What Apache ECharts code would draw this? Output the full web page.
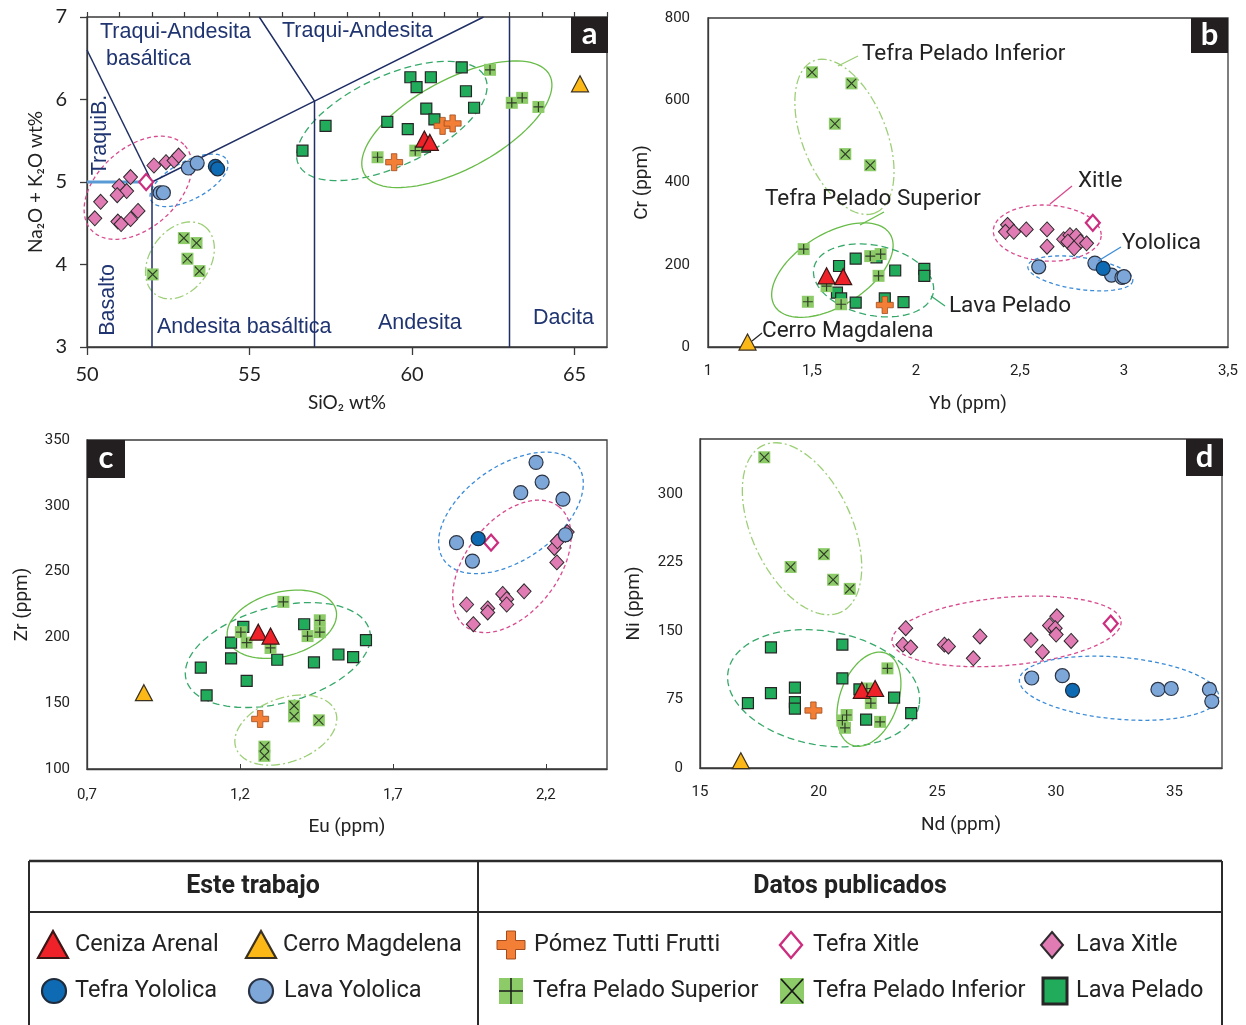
<!DOCTYPE html>
<html>
<head>
<meta charset="utf-8">
<script src="https://cdn.jsdelivr.net/npm/echarts@6/dist/echarts.min.js"></script>
<style>
  html, body { margin: 0; padding: 0; background: #fff; }
  #chart { width: 1246px; height: 1025px; }
</style>
</head>
<body>
<div id="chart"></div>
<script>
// values, per group and panel (a: TAS, b: Yb-Cr, c: Eu-Zr, d: Nd-Ni)
const lavaPelado = {
  a: [[56.63,5.38],[57.34,5.68],[59.24,5.73],[59.87,5.64],[59.95,6.27],[60.58,6.27],[60.14,6.15],[60.44,5.89],[60.69,5.76],[61.53,6.39],[61.66,6.10],[61.91,5.90],[60.4,5.43]],
  b: [[1.63,197],[1.71,215],[1.81,218],[1.90,186],[2.04,190],[2.04,173],[1.62,132],[1.64,118],[1.71,108],[1.85,118],[1.94,109]],
  c: [[1.211,208],[1.171,196],[1.171,184],[1.072,177],[1.091,156],[1.222,167],[1.322,183],[1.410,210],[1.442,181],[1.522,187],[1.570,185],[1.612,198]],
  d: [[17.99,132],[17.02,71],[17.99,82],[19.0,88],[19.0,72],[19.0,65],[21.0,135],[21.0,98],[21.72,86],[23.18,77],[22.0,53],[23.9,60]]
}
const tefraPeladoSuperior = {
  a: [[58.94,5.30],[60.10,5.38],[62.40,6.36],[63.07,5.96],[63.39,6.02],[63.89,5.91]],
  b: [[1.46,238],[1.48,110],[1.57,148],[1.64,104],[1.78,221],[1.83,226],[1.82,173]],
  c: [[1.342,227],[1.203,204],[1.222,196],[1.300,192],[1.421,201],[1.461,213],[1.461,204]],
  d: [[22.9,109],[22.2,71],[22.59,50.5],[21.18,58],[21.0,52],[21.11,44],[22.03,87]]
}
const tefraPeladoInferior = {
  a: [[52.02,3.88],[52.98,4.32],[53.37,4.26],[53.09,4.07],[53.46,3.92]],
  b: [[1.50,668],[1.69,641],[1.61,543],[1.66,469],[1.78,442]],
  c: [[1.377,148],[1.377,140],[1.458,137],[1.280,117],[1.280,110]],
  d: [[17.71,340],[18.82,220],[20.22,234],[20.61,206],[21.31,196]]
}
const pomezTuttiFrutti = {
  a: [[59.45,5.24],[60.94,5.68],[61.25,5.71]],
  b: [[1.85,102]],
  c: [[1.266,138]],
  d: [[19.78,63]]
}
const lavaXitle = {
  a: [[52.06,5.20],[52.43,5.24],[52.68,5.26],[52.82,5.32],[51.34,5.06],[50.99,4.95],[51.22,4.89],[50.93,4.84],[50.42,4.76],[50.24,4.56],[50.95,4.52],[51.05,4.49],[51.34,4.55],[51.57,4.65]],
  b: [[2.44,297],[2.43,280],[2.47,280],[2.53,286],[2.63,286],[2.63,244],[2.71,262],[2.74,272],[2.77,270],[2.73,256],[2.79,256],[2.82,252],[2.76,240]],
  c: [[1.941,225],[1.963,210],[2.010,222],[2.010,219],[2.059,233],[2.072,229],[2.072,225],[2.129,235],[2.236,257],[2.228,268],[2.238,273],[2.264,278],[2.27,280]],
  d: [[23.67,153],[23.55,135],[23.88,132],[25.30,135],[25.47,133],[26.80,144],[26.52,120],[28.95,140],[29.43,127],[30.04,166],[29.73,156],[29.97,153],[30.01,146],[30.64,139]]
}
const tefraXitle = {
  a: [[51.82,5.0]],
  b: [[2.85,302]],
  c: [[2.021,272]],
  d: [[32.31,158]]
}
const lavaYololica = {
  a: [[53.12,5.17],[53.39,5.23],[52.25,4.87],[52.35,4.87]],
  b: [[2.59,195],[2.86,204],[2.94,175],[2.99,169],[3.00,171]],
  c: [[2.168,333],[2.188,318],[2.118,310],[2.256,305],[1.908,272],[1.960,258],[2.264,278]],
  d: [[28.98,98.5],[30.27,101],[34.30,86],[34.86,87],[36.47,86],[36.57,73]]
}
const tefraYololica = {
  a: [[53.95,5.19],[54.02,5.16]],
  b: [[2.90,191]],
  c: [[1.979,275]],
  d: [[30.70,85]]
}
const cerroMagdelena = {
  a: [[65.17,6.19]],
  b: [[1.19,12]],
  c: [[0.886,158]],
  d: [[16.72,8]]
}
const cenizaArenal = {
  a: [[60.38,5.52],[60.55,5.48]],
  b: [[1.57,173],[1.65,171]],
  c: [[1.26,204],[1.30,201]],
  d: [[21.82,85],[22.38,87]]
}

// TAS field boundaries (SiO2, Na2O+K2O)
const tasLines = [
  [[50,6.6],[52,5]],
  [[52,3],[52,5],[57,5.98],[62.2,7]],
  [[57,3],[57,5.98],[55.3,7]],
  [[63,3],[63,7]]
]
const tasBlueLine = [[50,5],[52,5]]

// group ellipses: centre (data), semi-axes (px), tilt (deg), style
const ellipsesA = [[51.57,4.93,63,40,42,'xit'],[53.14,5.02,43,19,28,'yol'],[52.86,4.05,42,30,55,'inf'],[59.38,5.74,103,45,25,'lp'],[61.38,5.70,105,45,28,'sup']]
const ellipsesB = [[1.656,511,82,42,-68,'inf'],[1.598,187,68,36,32,'sup'],[1.796,162,61,35,-12,'lp'],[2.631,277,54,28,-3,'xit'],[2.79,179,53,16,-8,'yol']]
const ellipsesC = [[1.324,186.6,95,48,15,'lp'],[1.337,210,56,32,15,'sup'],[1.350,129.6,53,32,20,'inf'],[2.086,294.6,82,47,35,'yol'],[2.089,254,76,46,52,'xit']]
const ellipsesD = [[19.30,261.8,92,50,-65,'inf'],[20.21,87.3,97,57,-10,'lp'],[22.12,75.3,49,29,70,'sup'],[27.92,149.5,115,34,5,'xit'],[32.66,87.3,100,31,-5,'yol']]

const ellStyle = {
  lp: { stroke: '#36a96a', lineDash: [7, 4] },
  sup: { stroke: '#68bc48', lineDash: null },
  inf: { stroke: '#9dcf78', lineDash: [9, 3, 2, 3] },
  xit: { stroke: '#d84a8e', lineDash: [4, 3] },
  yol: { stroke: '#3b8bd8', lineDash: [4, 3] }
}

const plusThin = 'path://M4.4,0H5.6V4.4H10V5.6H5.6V10H4.4V5.6H0V4.4H4.4Z'
const crossThin = 'path://M0.8,0L5,4.2L9.2,0L10,0.8L5.8,5L10,9.2L9.2,10L5,5.8L0.8,10L0,9.2L4.2,5L0,0.8Z'
const plusThick = 'path://M3.4,0H6.6V3.4H10V6.6H6.6V10H3.4V6.6H0V3.4H3.4Z'

const groups = [
  { data: lavaPelado, symbol: 'rect', size: 11, color: '#21ac5b', border: '#262626', bw: 1.2 },
  { data: tefraPeladoSuperior, symbol: 'rect', size: 12, color: '#8ccb68', border: '#8ccb68', bw: 0, mark: plusThin },
  { data: tefraPeladoInferior, symbol: 'rect', size: 12, color: '#8ccb68', border: '#8ccb68', bw: 0, mark: crossThin },
  { data: pomezTuttiFrutti, symbol: plusThick, size: 17, color: '#f27f35', border: '#a04c1f', bw: 0.8 },
  { data: lavaXitle, symbol: 'diamond', size: [14, 15], color: '#e07bb4', border: '#2e2a2d', bw: 1 },
  { data: tefraXitle, symbol: 'diamond', size: [14, 16], color: '#ffffff', border: '#cc2e7f', bw: 2.2 },
  { data: lavaYololica, symbol: 'circle', size: 14, color: '#7ea7d9', border: '#2b3445', bw: 1.2 },
  { data: tefraYololica, symbol: 'circle', size: 14, color: '#0e6ab3', border: '#1d2b3c', bw: 1.2 },
  { data: cerroMagdelena, symbol: 'triangle', size: [17, 16], color: '#fbb817', border: '#3b3120', bw: 1.2 },
  { data: cenizaArenal, symbol: 'triangle', size: [17, 16], color: '#ee2228', border: '#3c1515', bw: 1.2 }
]

const panelKeys = ['a', 'b', 'c', 'd']
const ellipseSets = [ellipsesA, ellipsesB, ellipsesC, ellipsesD]
const comma = v => String(Math.round(v * 100) / 100).replace('.', ',')
const axisCol = '#3a3a3a'
const small = { fontFamily: 'Roboto', fontSize: 15, color: '#222' }
const nameStyle = { fontFamily: 'Roboto', fontSize: 19, color: '#222' }

function valAxis(grid, min, max, interval, extra) {
  return Object.assign({
    type: 'value', gridIndex: grid, min, max, interval,
    splitLine: { show: false },
    axisLine: { lineStyle: { color: axisCol, width: 1.3 } },
    axisTick: { show: false },
    axisLabel: Object.assign({ margin: 17, showMaxLabel: false }, small),
    nameLocation: 'middle',
    nameTextStyle: nameStyle
  }, extra)
}

const xAxes = [
  valAxis(0, 50, 66, 5, {
    name: 'SiO₂ wt%', nameGap: 46, nameTextStyle: { fontFamily: 'Lato', fontSize: 19, color: '#222' },
    axisTick: { show: true, length: 8, lineStyle: { color: axisCol, width: 1.3 } },
    axisLabel: { margin: 18, showMaxLabel: false, fontFamily: 'Lato', fontSize: 20, color: '#222' }
  }),
  valAxis(1, 1, 3.5, 0.5, { name: 'Yb (ppm)', nameGap: 48, axisLabel: Object.assign({ margin: 17, formatter: comma }, small) }),
  valAxis(2, 0.7, 2.4, 0.5, {
    name: 'Eu (ppm)', nameGap: 49,
    axisTick: { show: true, inside: true, length: 5, lineStyle: { color: axisCol } },
    axisLabel: Object.assign({ margin: 19, showMaxLabel: false, formatter: comma }, small)
  }),
  valAxis(3, 15, 37, 5, { name: 'Nd (ppm)', nameGap: 48 }),
  // minor ticks of panel a
  valAxis(0, 50, 66, 1, {
    axisLine: { show: false }, axisLabel: { show: false },
    axisTick: { show: true, length: 5, lineStyle: { color: axisCol, width: 1.2 } }
  })
]

const yAxes = [
  valAxis(0, 3, 7, 1, {
    name: 'Na₂O + K₂O wt%', nameGap: 42, nameTextStyle: { fontFamily: 'Lato', fontSize: 19, color: '#222' },
    axisTick: { show: true, length: 7, lineStyle: { color: axisCol, width: 1.3 } },
    axisLabel: { margin: 20, showMaxLabel: true, fontFamily: 'Lato', fontSize: 20, color: '#222' }
  }),
  valAxis(1, 0, 800, 200, { name: 'Cr (ppm)', nameGap: 56, axisLabel: Object.assign({ margin: 18, showMaxLabel: true }, small) }),
  valAxis(2, 100, 350, 50, { name: 'Zr (ppm)', nameGap: 55, axisLabel: Object.assign({ margin: 17, showMaxLabel: true }, small) }),
  valAxis(3, 0, 360, 75, { name: 'Ni (ppm)', nameGap: 56 })
]

const gridBase = { show: true, borderColor: axisCol, borderWidth: 1.3, containLabel: false }
const grids = [
  Object.assign({ left: 87, top: 17, width: 520, height: 330 }, gridBase),
  Object.assign({ left: 708, top: 18, width: 520, height: 329 }, gridBase),
  Object.assign({ left: 87, top: 440, width: 520, height: 329 }, gridBase),
  Object.assign({ left: 700, top: 439, width: 522, height: 329 }, gridBase)
]

const series = []

// ellipses
ellipseSets.forEach((list, i) => {
  series.push({
    type: 'custom', xAxisIndex: i, yAxisIndex: i, silent: true, z: 1, clip: false,
    data: list.map(e => [e[0], e[1]]),
    renderItem: (params, api) => {
      const e = list[params.dataIndex]
      const c = api.coord([e[0], e[1]])
      const th = e[4] * Math.PI / 180
      const pts = []
      for (let k = 0; k <= 96; k++) {
        const t = k / 96 * 2 * Math.PI
        const u = Math.cos(t) * e[2], w = Math.sin(t) * e[3]
        pts.push([c[0] + u * Math.cos(th) + w * Math.sin(th), c[1] - u * Math.sin(th) + w * Math.cos(th)])
      }
      const st = ellStyle[e[5]]
      return { type: 'polyline', shape: { points: pts }, style: { fill: null, stroke: st.stroke, lineWidth: 1.3, lineDash: st.lineDash } }
    }
  })
})

// TAS boundaries
tasLines.forEach(seg => {
  series.push({
    type: 'line', xAxisIndex: 0, yAxisIndex: 0, data: seg, symbol: 'none', silent: true, z: 2,
    lineStyle: { color: '#1f2f66', width: 1.5 }
  })
})
series.push({
  type: 'line', xAxisIndex: 0, yAxisIndex: 0, data: tasBlueLine, symbol: 'none', silent: true, z: 2,
  lineStyle: { color: '#5b9bd5', width: 3 }
})

// markers
panelKeys.forEach((p, i) => {
  groups.forEach((g, gi) => {
    series.push({
      type: 'scatter', xAxisIndex: i, yAxisIndex: i, data: g.data[p], silent: true,
      symbol: g.symbol, symbolSize: g.size, z: 3 + gi * 2,
      itemStyle: { color: g.color, borderColor: g.border, borderWidth: g.bw, opacity: 1 }
    })
    if (g.mark) {
      series.push({
        type: 'scatter', xAxisIndex: i, yAxisIndex: i, data: g.data[p], silent: true,
        symbol: g.mark, symbolSize: 10, z: 4 + gi * 2,
        itemStyle: { color: '#1a1a1a' }
      })
    }
  })
})

// ---- annotations ----
function txt(x, y, text, o) {
  o = o || {}
  return {
    type: 'text', x, y, rotation: o.rot || 0, z: o.z || 50, silent: true,
    style: {
      text, x: 0, y: 0, fill: o.color || '#222',
      font: (o.weight || 'normal') + ' ' + (o.size || 20) + 'px ' + (o.family || 'Roboto'),
      align: o.align || 'left', textAlign: o.align || 'left',
      verticalAlign: 'middle', textVerticalAlign: 'middle'
    }
  }
}
function seg(x1, y1, x2, y2, color, w) {
  return { type: 'line', z: 50, silent: true, shape: { x1, y1, x2, y2 }, style: { stroke: color, lineWidth: w || 1.3 } }
}
function tag(x, y, w, h, letter) {
  return [
    { type: 'rect', z: 60, silent: true, shape: { x, y, width: w, height: h }, style: { fill: '#231f20' } },
    txt(x + w / 2, y + h / 2 - 1, letter, { color: '#fff', size: 31, weight: 'bold', family: 'Lato', align: 'center', z: 61 })
  ]
}

const navy = '#1f3470'
const regionFont = { color: navy, family: 'Liberation Sans', size: 21.5 }
const gfx = [
  ...tag(571, 17, 37, 36, 'a'),
  ...tag(1191, 18, 37, 35, 'b'),
  ...tag(87, 440, 38, 38, 'c'),
  ...tag(1186, 439, 37, 37, 'd'),
  txt(100, 32, 'Traqui-Andesita', regionFont),
  txt(106, 59, 'basáltica', regionFont),
  txt(282, 31, 'Traqui-Andesita', regionFont),
  txt(100, 135, 'TraquiB.', Object.assign({ rot: Math.PI / 2, align: 'center' }, regionFont)),
  txt(108, 300, 'Basalto', Object.assign({ rot: Math.PI / 2, align: 'center' }, regionFont)),
  txt(157, 327, 'Andesita basáltica', regionFont),
  txt(378, 323, 'Andesita', regionFont),
  txt(533, 318, 'Dacita', regionFont),
  // panel b labels
  seg(838, 66, 858, 56, ellStyle.inf.stroke),
  txt(862, 54, 'Tefra Pelado Inferior', { size: 22.5 }),
  seg(860, 225, 884, 212, ellStyle.sup.stroke),
  txt(765, 199, 'Tefra Pelado Superior', { size: 22.5 }),
  seg(931, 296, 945, 306, ellStyle.lp.stroke),
  txt(949, 306, 'Lava Pelado', { size: 22.5 }),
  seg(1050, 204, 1072, 186, ellStyle.xit.stroke),
  txt(1078, 181, 'Xitle', { size: 22.5 }),
  seg(1098, 261, 1121, 247, ellStyle.yol.stroke),
  txt(1122, 243, 'Yololica', { size: 22.5 }),
  seg(752, 341, 762, 333, '#222', 1.2),
  txt(762, 331, 'Cerro Magdalena', { size: 22.5 })
]

// ---- legend table ----
const rowY = [945, 991]
const tableCol = '#2b2b2b'
gfx.push(
  seg(29, 861, 1222, 861, tableCol, 2.5),
  seg(29, 912, 1222, 912, tableCol, 2),
  seg(29, 861, 29, 1025, tableCol, 2),
  seg(478, 861, 478, 1025, tableCol, 2),
  seg(1222, 861, 1222, 1025, tableCol, 2),
  txt(253, 887, 'Este trabajo', { size: 25, weight: 'bold', align: 'center' }),
  txt(850, 887, 'Datos publicados', { size: 25, weight: 'bold', align: 'center' })
)

const legendItems = [
  { label: 'Ceniza Arenal', ix: 53, tx: 75, row: 0, g: 9 },
  { label: 'Cerro Magdelena', ix: 261, tx: 283, row: 0, g: 8 },
  { label: 'Tefra Yololica', ix: 54, tx: 75, row: 1, g: 7 },
  { label: 'Lava Yololica', ix: 261, tx: 284, row: 1, g: 6 },
  { label: 'Pómez Tutti Frutti', ix: 511, tx: 534, row: 0, g: 3 },
  { label: 'Tefra Xitle', ix: 791, tx: 813, row: 0, g: 5 },
  { label: 'Lava Xitle', ix: 1052, tx: 1076, row: 0, g: 4 },
  { label: 'Tefra Pelado Superior', ix: 511, tx: 533, row: 1, g: 1 },
  { label: 'Tefra Pelado Inferior', ix: 792, tx: 813, row: 1, g: 2 },
  { label: 'Lava Pelado', ix: 1055, tx: 1076, row: 1, g: 0 }
]
legendItems.forEach(it => {
  const g = groups[it.g]
  const cx = it.ix, cy = rowY[it.row]
  const st = { fill: g.color, stroke: g.border, lineWidth: g.bw ? 2 : 0 }
  let shapes = []
  if (g.symbol === 'triangle') {
    shapes.push({ type: 'polygon', shape: { points: [[cx, cy - 14], [cx + 15, cy + 13], [cx - 15, cy + 13]] }, style: Object.assign({}, st, { lineWidth: 2.2 }) })
  } else if (g.symbol === 'circle') {
    shapes.push({ type: 'circle', shape: { cx, cy, r: 12 }, style: Object.assign({}, st, { lineWidth: 2.2 }) })
  } else if (g.symbol === 'diamond') {
    shapes.push({ type: 'polygon', shape: { points: [[cx, cy - 13], [cx + 11, cy], [cx, cy + 13], [cx - 11, cy]] }, style: Object.assign({}, st, { lineWidth: g.bw > 2 ? 2.4 : 2 }) })
  } else if (g.symbol === plusThick) {
    const a = 14, b = 4.5
    shapes.push({ type: 'polygon', shape: { points: [[cx - b, cy - a], [cx + b, cy - a], [cx + b, cy - b], [cx + a, cy - b], [cx + a, cy + b], [cx + b, cy + b], [cx + b, cy + a], [cx - b, cy + a], [cx - b, cy + b], [cx - a, cy + b], [cx - a, cy - b], [cx - b, cy - b]] }, style: Object.assign({}, st, { lineWidth: 1 }) })
  } else {
    shapes.push({ type: 'rect', shape: { x: cx - 12, y: cy - 13, width: 24, height: 26 }, style: Object.assign({}, st, { lineWidth: g.bw ? 3 : 0 }) })
    if (g.mark === plusThin) {
      shapes.push({ type: 'line', shape: { x1: cx, y1: cy - 13, x2: cx, y2: cy + 13 }, style: { stroke: '#1a1a1a', lineWidth: 1.5 } })
      shapes.push({ type: 'line', shape: { x1: cx - 12, y1: cy, x2: cx + 12, y2: cy }, style: { stroke: '#1a1a1a', lineWidth: 1.5 } })
    } else if (g.mark === crossThin) {
      shapes.push({ type: 'line', shape: { x1: cx - 11, y1: cy - 12, x2: cx + 11, y2: cy + 12 }, style: { stroke: '#1a1a1a', lineWidth: 1.8 } })
      shapes.push({ type: 'line', shape: { x1: cx + 11, y1: cy - 12, x2: cx - 11, y2: cy + 12 }, style: { stroke: '#1a1a1a', lineWidth: 1.8 } })
    }
  }
  shapes.forEach(s => { s.z = 55; s.silent = true; gfx.push(s) })
  gfx.push(txt(it.tx, cy, it.label, { size: 23.5 }))
})

const chart = echarts.init(document.getElementById('chart'))
chart.setOption({
  backgroundColor: '#fff',
  animation: false,
  grid: grids,
  xAxis: xAxes,
  yAxis: yAxes,
  series,
  graphic: gfx
})
</script>
</body>
</html>
